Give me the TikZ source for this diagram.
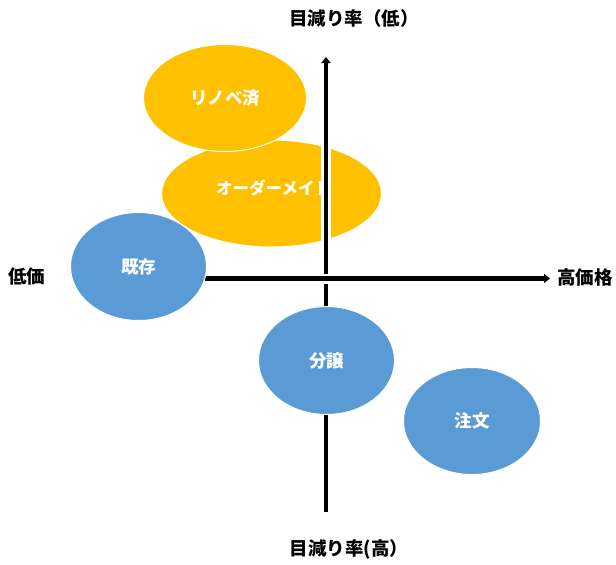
\documentclass[tikz,border=0pt]{standalone}
\usepackage{fontspec}
\newfontfamily\cjk{Noto Sans CJK JP}
\usetikzlibrary{shapes.geometric,arrows.meta}
\definecolor{oran}{HTML}{FFC000}
\definecolor{blu}{HTML}{5B9BD5}
\tikzset{
  blob/.style={ellipse, draw=white, line width=1pt, inner sep=0pt, text=white, font=\cjk\bfseries\fontsize{17.5}{19}\selectfont},
  axislabel/.style={text=black, font=\cjk\bfseries\fontsize{18.5}{20}\selectfont, inner sep=0pt},
  axisline/.style={line width=4.5pt, black, -{Triangle[width=9pt,length=6pt]}},
  halo/.style={line width=10pt, white},
}
\begin{document}
\begin{tikzpicture}[x=1pt,y=-1pt]
\useasboundingbox (0,0) rectangle (616,565);
% orange
\node[blob, fill=oran, minimum width=220pt, minimum height=107pt] (order) at (271.5,193.5) {};
\node[blob, fill=oran, minimum width=163pt, minimum height=107pt] (reno) at (225,98) {リノベ済};
\node[text=white, font=\cjk\bfseries\fontsize{16.5}{18}\selectfont, inner sep=0pt, anchor=west] (ordertext) at (216,188) {オーダーメイド};
% axes
\coordinate (vtop) at (326,57);
\coordinate (vbot) at (326,512);
\coordinate (hl) at (205,278.5);
\coordinate (hr) at (550,278.5);
\draw[halo] (vbot) -- ([yshift=2pt]vtop);
\draw[axisline] (vbot) -- (vtop);
\draw[halo] (hl) -- ([xshift=-4pt]hr);
\draw[axisline] (hl) -- (hr);
% blue
\node[blob, fill=blu, minimum width=136pt, minimum height=108pt] (kizon) at (138.5,266.5) {既存};
\node[blob, fill=blu, minimum width=136pt, minimum height=108pt] (bunjo) at (326.5,360.5) {分譲};
\node[blob, fill=blu, minimum width=137pt, minimum height=107pt] (chumon) at (472,421) {注文};
% labels
\node[axislabel] (top) at (354,18) {目減り率（低）};
\node[axislabel] (bot) at (349,549) {目減り率(高）};
\node[axislabel] (low) at (27,276) {低価};
\node[axislabel] (high) at (585,277) {高価格};
\end{tikzpicture}
\end{document}
